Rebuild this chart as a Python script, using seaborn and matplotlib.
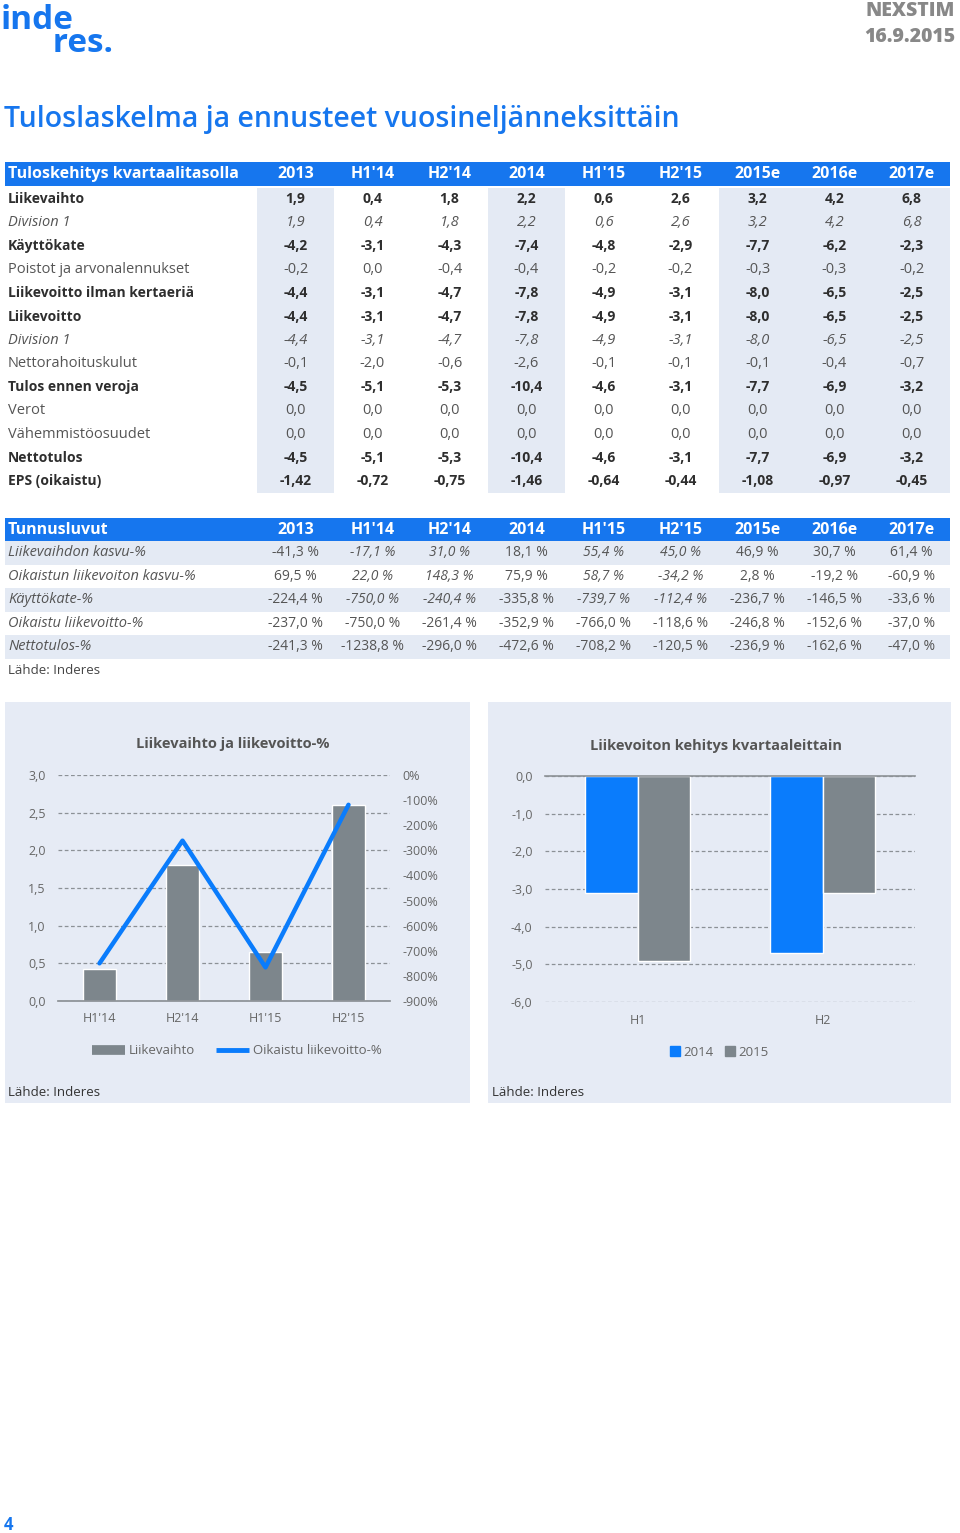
import numpy as np
import pandas as pd
import matplotlib
matplotlib.use("Agg")
import matplotlib.pyplot as plt
import seaborn as sns
from matplotlib.lines import Line2D
from matplotlib.patches import Rectangle

# ---------------- data ----------------
columns = ["2013", "H1'14", "H2'14", "2014", "H1'15", "H2'15", "2015e", "2016e", "2017e"]

t1_labels = ["Liikevaihto", "Division 1", "Käyttökate", "Poistot ja arvonalennukset",
             "Liikevoitto ilman kertaeriä", "Liikevoitto", "Division 1", "Nettorahoituskulut",
             "Tulos ennen veroja", "Verot", "Vähemmistöosuudet", "Nettotulos", "EPS (oikaistu)"]
t1_styles = ["bold", "italic", "bold", "normal", "bold", "bold", "italic", "normal",
             "bold", "normal", "normal", "bold", "bold"]
liikevaihto = [1.9, 0.4, 1.8, 2.2, 0.6, 2.6, 3.2, 4.2, 6.8]
division1_lv = [1.9, 0.4, 1.8, 2.2, 0.6, 2.6, 3.2, 4.2, 6.8]
kayttokate = [-4.2, -3.1, -4.3, -7.4, -4.8, -2.9, -7.7, -6.2, -2.3]
poistot = [-0.2, 0.0, -0.4, -0.4, -0.2, -0.2, -0.3, -0.3, -0.2]
liikevoitto_ilman = [-4.4, -3.1, -4.7, -7.8, -4.9, -3.1, -8.0, -6.5, -2.5]
liikevoitto = [-4.4, -3.1, -4.7, -7.8, -4.9, -3.1, -8.0, -6.5, -2.5]
division1_lvo = [-4.4, -3.1, -4.7, -7.8, -4.9, -3.1, -8.0, -6.5, -2.5]
nettorahoitus = [-0.1, -2.0, -0.6, -2.6, -0.1, -0.1, -0.1, -0.4, -0.7]
tulos_ennen = [-4.5, -5.1, -5.3, -10.4, -4.6, -3.1, -7.7, -6.9, -3.2]
verot = [0.0, 0.0, 0.0, 0.0, 0.0, 0.0, 0.0, 0.0, 0.0]
vahemmisto = [0.0, 0.0, 0.0, 0.0, 0.0, 0.0, 0.0, 0.0, 0.0]
nettotulos = [-4.5, -5.1, -5.3, -10.4, -4.6, -3.1, -7.7, -6.9, -3.2]
eps = [-1.42, -0.72, -0.75, -1.46, -0.64, -0.44, -1.08, -0.97, -0.45]
t1_values = [liikevaihto, division1_lv, kayttokate, poistot, liikevoitto_ilman, liikevoitto,
             division1_lvo, nettorahoitus, tulos_ennen, verot, vahemmisto, nettotulos, eps]
t1_decimals = [1] * 12 + [2]
t1_shaded_cols = ["2013", "2014", "2015e", "2016e", "2017e"]

t2_labels = ["Liikevaihdon kasvu-%", "Oikaistun liikevoiton kasvu-%", "Käyttökate-%",
             "Oikaistu liikevoitto-%", "Nettotulos-%"]
lv_kasvu = [-41.3, -17.1, 31.0, 18.1, 55.4, 45.0, 46.9, 30.7, 61.4]
lvo_kasvu = [69.5, 22.0, 148.3, 75.9, 58.7, -34.2, 2.8, -19.2, -60.9]
kk_pct = [-224.4, -750.0, -240.4, -335.8, -739.7, -112.4, -236.7, -146.5, -33.6]
lvo_pct = [-237.0, -750.0, -261.4, -352.9, -766.0, -118.6, -246.8, -152.6, -37.0]
nt_pct = [-241.3, -1238.8, -296.0, -472.6, -708.2, -120.5, -236.9, -162.6, -47.0]
t2_values = [lv_kasvu, lvo_kasvu, kk_pct, lvo_pct, nt_pct]

c1_periods = ["H1'14", "H2'14", "H1'15", "H2'15"]
c1_liikevaihto = [0.42, 1.8, 0.65, 2.6]
c1_margin = [-750.0, -261.4, -766.0, -118.6]

c2_halves = ["H1", "H2"]
c2_2014 = [-3.1, -4.7]
c2_2015 = [-4.9, -3.1]

# ---------------- style ----------------
W, H = 960, 1533
HEAD_BLUE = "#1676ee"
BAR_BLUE = "#0a7cfc"
GRAY = "#7d868c"
SHADE = "#e4eaf4"
PANEL = "#e6ebf5"
GRID = "#8c9196"
DARK = "#2e2e2e"
MID = "#555555"
TICK = "#666666"

sns.set_theme(style="white")
plt.rcParams['font.family'] = ['Open Sans', 'DejaVu Sans']

fig = plt.figure(figsize=(W / 100, H / 100), dpi=100)
fig.patch.set_facecolor("white")

page = fig.add_axes([0, 0, 1, 1])
page.set_xlim(0, W)
page.set_ylim(H, 0)
page.axis("off")


def fmt(v, d=1):
    return f"{v:.{d}f}".replace(".", ",")


# ---------------- header ----------------
page.text(1, 4, "inde\n      res.", color=HEAD_BLUE, fontsize=24, fontweight="bold",
          va="top", linespacing=0.62)
page.text(955, 11, "NEXSTIM", color="#888888", fontsize=14, fontweight="heavy",
          ha="right", va="center")
page.text(955, 37, "16.9.2015", color="#888888", fontsize=14, fontweight="heavy",
          ha="right", va="center")
page.text(4, 119, "Tuloslaskelma ja ennusteet vuosineljänneksittäin", color=HEAD_BLUE,
          fontsize=20.5, fontweight="semibold", va="center")

# ---------------- table 1 ----------------
x0, col0, colw = 5, 257, 77
page.add_patch(Rectangle((x0, 162), 945, 23.5, color=HEAD_BLUE, lw=0))
page.text(8, 173.5, "Tuloskehitys kvartaalitasolla", color="white", fontsize=11.5,
          fontweight="bold", va="center")
for j, c in enumerate(columns):
    page.text(col0 + colw * (j + 0.5), 173.5, c, color="white", fontsize=11.5,
              fontweight="bold", ha="center", va="center")
row_top, rowh = 187.5, 23.5
for j, c in enumerate(columns):
    if c in t1_shaded_cols:
        page.add_patch(Rectangle((col0 + colw * j, row_top), colw, rowh * len(t1_labels),
                                 color=SHADE, lw=0, zorder=0))
for i, (lab, sty, vals, d) in enumerate(zip(t1_labels, t1_styles, t1_values, t1_decimals)):
    y = row_top + rowh * (i + 0.5)
    if sty == "bold":
        kw = dict(fontsize=10, fontweight="bold", color=DARK)
    elif sty == "italic":
        kw = dict(fontsize=10.5, fontstyle="italic", color=MID)
    else:
        kw = dict(fontsize=10.5, color=MID)
    page.text(8, y, lab, va="center", **kw)
    for j, v in enumerate(vals):
        page.text(col0 + colw * (j + 0.5), y, fmt(v, d), ha="center", va="center", **kw)

# ---------------- table 2 ----------------
page.add_patch(Rectangle((x0, 518), 945, 23, color=HEAD_BLUE, lw=0))
page.text(8, 529.5, "Tunnusluvut", color="white", fontsize=11.5, fontweight="bold", va="center")
for j, c in enumerate(columns):
    page.text(col0 + colw * (j + 0.5), 529.5, c, color="white", fontsize=11.5,
              fontweight="bold", ha="center", va="center")
row_top2 = 541
half_cols = ["H1'14", "H2'14", "H1'15", "H2'15"]
for i, (lab, vals) in enumerate(zip(t2_labels, t2_values)):
    y = row_top2 + rowh * (i + 0.5)
    if i % 2 == 0:
        page.add_patch(Rectangle((x0, row_top2 + rowh * i), 945, rowh, color=SHADE, lw=0, zorder=0))
    page.text(8, y, lab, fontsize=10.5, fontstyle="italic", color=MID, va="center")
    for j, v in enumerate(vals):
        st = "italic" if (columns[j] in half_cols and i < 3) else "normal"
        page.text(col0 + colw * (j + 0.5), y, fmt(v) + " %", fontsize=10, fontstyle=st,
                  color=MID, ha="center", va="center")
page.text(8, 670, "Lähde: Inderes", fontsize=9.5, color="#444444", va="center")

# ---------------- chart panels ----------------
page.add_patch(Rectangle((5, 702), 465, 401, color=PANEL, lw=0, zorder=0))
page.add_patch(Rectangle((488, 702), 463, 401, color=PANEL, lw=0, zorder=0))
page.text(233, 744, "Liikevaihto ja liikevoitto-%", fontsize=10.5, fontweight="bold",
          color=MID, ha="center", va="center")
page.text(716, 746, "Liikevoiton kehitys kvartaaleittain", fontsize=10.5, fontweight="bold",
          color=MID, ha="center", va="center")
page.text(8, 1092, "Lähde: Inderes", fontsize=9.5, color="#333333", va="center")
page.text(492, 1092, "Lähde: Inderes", fontsize=9.5, color="#333333", va="center")
page.text(4, 1525, "4", fontsize=12, fontweight="bold", color=HEAD_BLUE, va="center")


def px_axes(xa, ya, xb, yb):
    return fig.add_axes([xa / W, 1 - yb / H, (xb - xa) / W, (yb - ya) / H])


# ---------------- chart 1 ----------------
ax1 = px_axes(58, 775, 390, 1001)
ax1.set_facecolor("none")
df1 = pd.DataFrame({"period": c1_periods, "liikevaihto": c1_liikevaihto, "margin": c1_margin})
sns.barplot(data=df1, x="period", y="liikevaihto", color=GRAY, saturation=1, width=0.4, ax=ax1)
ax1.set_ylim(0, 3)
yt = np.arange(0, 3.01, 0.5)
ax1.set_yticks(yt)
ax1.set_yticklabels([fmt(v) for v in yt])
ax1.yaxis.grid(True, linestyle=(0, (3, 2)), color=GRID, lw=0.9)
ax1.set_axisbelow(True)
for s in ["top", "right", "left"]:
    ax1.spines[s].set_visible(False)
ax1.spines["bottom"].set_color(GRID)
ax1.tick_params(axis="y", length=0, pad=9, labelsize=9, labelcolor=TICK)
ax1.tick_params(axis="x", length=0, pad=8, labelsize=9, labelcolor=TICK)
ax1.set_xlabel("")
ax1.set_ylabel("")

ax1b = ax1.twinx()
sns.lineplot(x=np.arange(len(c1_periods)), y=df1["margin"], color=BAR_BLUE, lw=3.2, ax=ax1b)
ax1b.set_ylim(-900, 0)
rt = np.arange(-900, 1, 100)
ax1b.set_yticks(rt)
ax1b.set_yticklabels([f"{v}%" for v in rt])
ax1b.tick_params(axis="y", length=0, pad=9, labelsize=9, labelcolor=TICK)
for s in ax1b.spines.values():
    s.set_visible(False)
ax1b.set_ylabel("")
ax1.set_xlim(-0.5, len(c1_periods) - 0.5)

h1 = [Line2D([], [], color=GRAY, lw=7, solid_capstyle="butt"),
      Line2D([], [], color=BAR_BLUE, lw=3.5, solid_capstyle="butt")]
fig.legend(h1, ["Liikevaihto", "Oikaistu liikevoitto-%"], loc="center",
           bbox_to_anchor=(237 / W, 1 - 1051 / H), ncol=2, frameon=False, handlelength=2.5,
           handletextpad=0.3, columnspacing=1.6, fontsize=9.5, labelcolor=TICK)

# ---------------- chart 2 ----------------
ax2 = px_axes(545, 776, 915, 1002)
ax2.set_facecolor("none")
df2 = pd.DataFrame({
    "half": c2_halves * 2,
    "year": ["2014"] * len(c2_halves) + ["2015"] * len(c2_halves),
    "value": c2_2014 + c2_2015,
})
sns.barplot(data=df2, x="half", y="value", hue="year", palette=[BAR_BLUE, GRAY],
            saturation=1, width=0.57, ax=ax2, legend=False)
ax2.set_ylim(-6, 0)
yt2 = np.arange(-6, 0.01, 1)
ax2.set_yticks(yt2)
ax2.set_yticklabels([fmt(v) for v in yt2])
ax2.yaxis.grid(True, linestyle=(0, (3, 2)), color=GRID, lw=0.9)
ax2.set_axisbelow(True)
for s in ["bottom", "right", "left"]:
    ax2.spines[s].set_visible(False)
ax2.spines["top"].set_color(GRID)
ax2.spines["top"].set_linewidth(1.2)
ax2.tick_params(axis="y", length=0, pad=9, labelsize=9, labelcolor=TICK)
ax2.tick_params(axis="x", length=0, pad=9, labelsize=9, labelcolor=TICK)
ax2.set_xlabel("")
ax2.set_ylabel("")

h2 = [Line2D([], [], marker="s", ls="", color=BAR_BLUE, markersize=7),
      Line2D([], [], marker="s", ls="", color=GRAY, markersize=7)]
fig.legend(h2, ["2014", "2015"], loc="center", bbox_to_anchor=(719 / W, 1 - 1052 / H),
           ncol=2, frameon=False, handlelength=0.8, handletextpad=0.2, columnspacing=0.9,
           fontsize=9.5, labelcolor=TICK)

fig.savefig("out.png", dpi=100, facecolor="white")
